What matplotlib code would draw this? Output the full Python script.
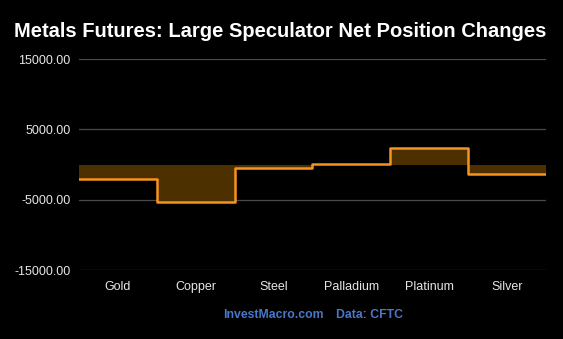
import matplotlib.pyplot as plt
import numpy as np

plt.rcParams['font.family'] = ['Liberation Sans', 'DejaVu Sans']

# Weekly change in large speculator net positions
metals = ['Gold', 'Copper', 'Steel', 'Palladium', 'Platinum', 'Silver']
net_change = [-2100, -5400, -500, 50, 2350, -1300]
yticks = [-15000, -5000, 5000, 15000]

line_color = '#f7931e'
fill_color = '#4d3000'

fig = plt.figure(figsize=(5.63, 3.39), dpi=100, facecolor='black')
ax = fig.add_axes([0.1403, 0.2035, 0.8295, 0.6224], facecolor='black')

edges = np.arange(len(metals) + 1)
steps = net_change + [net_change[-1]]

ax.fill_between(edges, steps, 0, step='post', color=fill_color, linewidth=0, zorder=2)
ax.plot(edges, steps, drawstyle='steps-post', color=line_color, linewidth=1.8,
        solid_joinstyle='round', zorder=3)

ax.set_xlim(0, len(metals))
ax.set_ylim(-15000, 15000)
ax.set_yticks(yticks)
ax.set_yticklabels([f'{v:.2f}' for v in yticks])
ax.set_xticks(edges[:-1] + 0.5)
ax.set_xticklabels(metals)
ax.tick_params(axis='both', length=0, colors='#e6e6e6', labelsize=9)
ax.tick_params(axis='x', pad=8)
ax.tick_params(axis='y', pad=6)
ax.grid(axis='y', color='#4a4a4a', linewidth=0.9, zorder=1)
for s in ax.spines.values():
    s.set_visible(False)

fig.text(0.498, 0.908, 'Metals Futures: Large Speculator Net Position Changes',
         ha='center', va='center', color='white', fontsize=14.5, fontweight='bold')
fig.text(0.486, 0.07, 'InvestMacro.com', ha='center', va='center',
         color='#4a78c8', fontsize=8.8, fontweight='bold')
fig.text(0.656, 0.07, 'Data: CFTC', ha='center', va='center',
         color='#4a78c8', fontsize=8.8, fontweight='bold')

fig.savefig('out.png', dpi=100, facecolor='black')
